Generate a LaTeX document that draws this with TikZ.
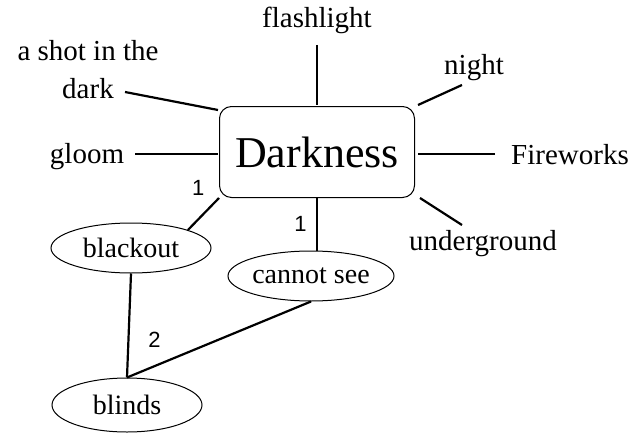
\documentclass[tikz,border=0pt]{standalone}
\usepackage{fontspec}
\setmainfont{Liberation Serif}
\setsansfont{Liberation Sans}
\usetikzlibrary{shapes.geometric}
\begin{document}
\begin{tikzpicture}[x=1pt,y=-1pt,thick,
		word/.style={font=\fontsize{29}{38}\selectfont},
		bubble/.style={ellipse,draw,line width=1pt,font=\fontsize{28}{32}\selectfont,inner sep=0pt},
		num/.style={font=\sffamily\fontsize{22}{26}\selectfont},
		link/.style={line width=2.2pt}]
		\useasboundingbox (0,0) rectangle (644,441);
		
		\node[draw,rounded corners=12pt,line width=1pt,minimum width=195pt,minimum height=91pt,
		font=\fontsize{44}{50}\selectfont] (dark) at (317,152) {Darkness};
		
		\node[word] (flash) at (317,20) {flashlight};
		\node[word,align=center] (shot) at (88,70) {a shot in the\\dark};
		\node[word] (night) at (474,68) {night};
		\node[word] (gloom) at (87,157) {gloom};
		\node[word] (fire) at (570,155) {Fireworks};
		\node[word] (under) at (483,244) {underground};
		
		\node[bubble,minimum width=160pt,minimum height=50pt] (black) at (131,248) {blackout};
		\node[bubble,minimum width=164pt,minimum height=50pt] (cannot) at (311,276) {cannot see};
		\node[bubble,minimum width=150pt,minimum height=54pt] (blinds) at (127,405) {blinds};
		
		\coordinate (f1) at (317,45); \coordinate (f2) at (317,105);
		\coordinate (s1) at (125,92); \coordinate (s2) at (218,110);
		\coordinate (n1) at (462,85); \coordinate (n2) at (418,105);
		\coordinate (g1) at (135,154); \coordinate (g2) at (218,154);
		\coordinate (w1) at (495,154); \coordinate (w2) at (418,154);
		\coordinate (u1) at (462,225); \coordinate (u2) at (420,198);
		\draw[link] (f1) -- (f2);
		\draw[link] (s1) -- (s2);
		\draw[link] (n1) -- (n2);
		\draw[link] (g1) -- (g2);
		\draw[link] (w1) -- (w2);
		\draw[link] (u1) -- (u2);
		
		\draw[link] (dark.south west) -- (black.north east) node[num,pos=0.2,above left=4pt] {1};
		\draw[link] (dark.south) -- (dark.south |- cannot.north) node[num,midway,left=6pt] {1};
		\draw[link] (black.south) -- (blinds.north);
		\draw[link] (cannot.south) -- (blinds.north) node[num,pos=0.85,above=14pt] {2};
		\end{tikzpicture}
\end{document}
